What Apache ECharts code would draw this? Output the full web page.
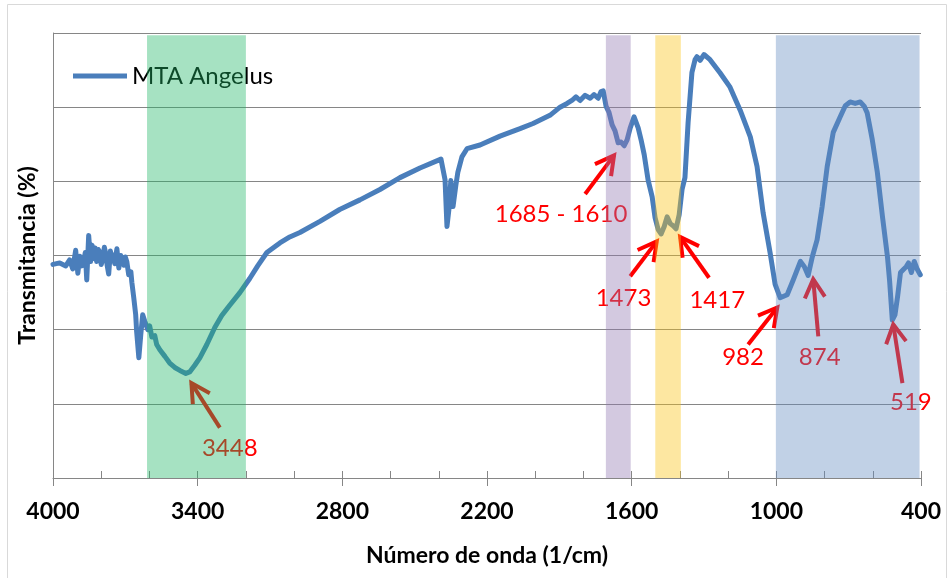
<!DOCTYPE html>
<html>
<head>
<meta charset="utf-8">
<title>MTA Angelus FTIR</title>
<script src="https://cdn.jsdelivr.net/npm/echarts@6/dist/echarts.min.js"></script>
<style>
  html, body { margin: 0; padding: 0; background: #fff; }
  #chart { width: 948px; height: 578px; }
</style>
</head>
<body>
<div id="chart"></div>
<script>
// spectrum (wavenumber in 1/cm, transmittance in %)
const wavenumbers = [4000, 3972, 3947, 3931, 3918, 3906, 3897, 3889, 3881, 3873, 3866, 3860, 3852, 3844, 3838, 3831, 3825, 3819, 3812, 3806, 3800, 3794, 3787, 3781, 3775, 3769, 3762, 3756, 3750, 3744, 3735, 3727, 3719, 3712, 3706, 3700, 3694, 3686, 3677, 3673, 3665, 3657, 3653, 3644, 3636, 3628, 3619, 3607, 3599, 3590, 3578, 3570, 3557, 3536, 3516, 3495, 3474, 3449, 3433, 3412, 3391, 3362, 3329, 3300, 3267, 3225, 3184, 3151, 3113, 3059, 3018, 2976, 2893, 2811, 2727, 2644, 2561, 2478, 2391, 2374, 2366, 2358, 2350, 2341, 2329, 2321, 2304, 2283, 2229, 2146, 2063, 2009, 1939, 1897, 1868, 1848, 1831, 1814, 1793, 1772, 1756, 1739, 1727, 1718, 1706, 1694, 1681, 1669, 1656, 1644, 1631, 1619, 1606, 1590, 1573, 1561, 1548, 1532, 1515, 1503, 1490, 1478, 1465, 1453, 1440, 1428, 1416, 1403, 1391, 1379, 1366, 1350, 1337, 1329, 1316, 1300, 1275, 1233, 1192, 1150, 1108, 1080, 1055, 1026, 1005, 984, 955, 930, 900, 884, 868, 851, 831, 810, 789, 764, 735, 714, 694, 673, 652, 635, 623, 602, 581, 560, 539, 530, 519, 508, 497, 485, 473, 461, 452, 440, 428, 415, 403]
const transmittance = [28.8, 29.0, 28.6, 29.4, 28.2, 30.7, 27.6, 29.9, 28.6, 29.2, 30.4, 26.7, 32.7, 29.2, 31.4, 29.6, 31.0, 29.2, 30.8, 30.5, 28.8, 29.4, 31.1, 30.2, 28.6, 27.5, 30.6, 29.7, 30.1, 28.9, 30.9, 28.3, 30.0, 29.1, 28.7, 29.8, 29.2, 27.4, 27.8, 26.4, 24.3, 22.0, 19.7, 16.2, 19.3, 22.0, 21.1, 20.0, 20.5, 19.0, 19.2, 18.0, 17.3, 16.4, 15.5, 14.9, 14.5, 14.1, 14.3, 15.2, 16.2, 18.0, 20.3, 21.9, 23.3, 25.0, 26.9, 28.6, 30.4, 31.7, 32.5, 33.1, 34.6, 36.2, 37.5, 38.9, 40.5, 41.8, 43.0, 40.2, 33.9, 36.2, 40.1, 36.6, 39.5, 41.2, 43.3, 44.4, 44.9, 46.1, 47.1, 47.8, 48.9, 50.0, 50.5, 50.9, 51.4, 50.9, 51.6, 51.2, 51.7, 51.2, 52.1, 52.2, 50.1, 49.3, 47.6, 46.8, 45.2, 45.3, 44.8, 45.6, 47.2, 48.7, 47.2, 45.6, 43.6, 40.2, 37.9, 35.1, 33.5, 32.9, 33.9, 35.2, 34.3, 34.0, 33.6, 35.5, 38.9, 40.5, 47.9, 54.7, 56.4, 56.8, 56.3, 57.1, 56.4, 54.6, 52.7, 49.6, 46.0, 42.0, 35.8, 30.4, 26.1, 24.3, 24.7, 26.7, 29.2, 28.5, 27.3, 29.8, 32.1, 36.6, 42.0, 46.6, 48.7, 50.2, 50.7, 50.5, 50.7, 50.1, 49.2, 45.6, 41.2, 35.3, 29.8, 26.5, 21.3, 22.0, 24.5, 27.7, 28.1, 28.5, 29.0, 27.7, 29.2, 28.1, 27.4]

// highlighted bands [from, to] in 1/cm, drawn over the curve with some transparency
const bandRanges = [[3610, 3200], [1707, 1604], [1502, 1396], [1002, 406]]
const bandColors = ['rgba(33,182,102,0.4)', 'rgba(145,120,177,0.4)', 'rgba(250,195,20,0.4)', 'rgba(100,140,193,0.4)']
const bandTop = 59.7

// peak annotations: arrow tip, arrow tail, text position
const peakLabels = ['3448', '1685 - 1610', '1473', '1417', '982', '874', '519']
const arrowTips = [[3426, 12.8], [1673, 43.5], [1496, 31.9], [1399, 32.5], [996, 23.0], [847, 26.8], [515, 20.7]]
const arrowTails = [[3308, 6.8], [1793, 38.3], [1606, 27.2], [1279, 27.0], [1117, 18.0], [826, 19.1], [477, 12.8]]
const labelAt = [[3267, 4.0], [1893, 35.6], [1634, 24.3], [1245, 24.0], [1138, 16.3], [820, 16.3], [442, 10.2]]

const xTicks = { min: 400, max: 4000, major: 600, minor: 200 }

const chart = echarts.init(document.getElementById('chart'))

const lineData = wavenumbers.map((w, i) => [w, transmittance[i]])
const arrowData = arrowTips.map((t, i) => [t[0], t[1], arrowTails[i][0], arrowTails[i][1]])
const bandData = bandRanges.map(r => [r[0], r[1], 0, bandTop])

function renderArrow(params, api) {
  const tip = api.coord([api.value(0), api.value(1)])
  const tail = api.coord([api.value(2), api.value(3)])
  const ang = Math.atan2(tail[1] - tip[1], tail[0] - tip[0])
  const len = 21
  const spread = 0.5
  const a = [tip[0] + len * Math.cos(ang + spread), tip[1] + len * Math.sin(ang + spread)]
  const b = [tip[0] + len * Math.cos(ang - spread), tip[1] + len * Math.sin(ang - spread)]
  return {
    type: 'group',
    children: [
      { type: 'line', shape: { x1: tail[0], y1: tail[1], x2: tip[0], y2: tip[1] }, style: { stroke: '#ff0000', lineWidth: 4 } },
      { type: 'polyline', shape: { points: [a, tip, b] }, style: { stroke: '#ff0000', lineWidth: 4, fill: null } }
    ]
  }
}

function renderLabel(params, api) {
  const p = api.coord([api.value(0), api.value(1)])
  return {
    type: 'text',
    x: p[0],
    y: p[1],
    style: {
      text: peakLabels[params.dataIndex],
      fill: '#ff0000',
      font: '24px Lato',
      align: 'center',
      verticalAlign: 'middle'
    }
  }
}

function renderBand(params, api) {
  const p0 = api.coord([api.value(0), api.value(3)])
  const p1 = api.coord([api.value(1), api.value(2)])
  return {
    type: 'rect',
    shape: { x: Math.min(p0[0], p1[0]), y: p0[1], width: Math.abs(p1[0] - p0[0]), height: p1[1] - p0[1] },
    style: { fill: bandColors[params.dataIndex] }
  }
}

chart.setOption({
  animation: false,
  textStyle: { fontFamily: 'Lato' },
  graphic: [{
    type: 'rect',
    shape: { x: 7.5, y: 4.5, width: 939, height: 620 },
    style: { fill: null, stroke: '#d9d9d9', lineWidth: 1 },
    silent: true
  }],
  grid: { left: 53, right: 27, top: 33, bottom: 100 },
  legend: {
    data: ['MTA Angelus'],
    left: 68,
    top: 59,
    icon: 'rect',
    itemWidth: 54,
    itemHeight: 5,
    itemGap: 6,
    itemStyle: { color: '#4a7ebb' },
    textStyle: { fontSize: 24, color: '#000', fontFamily: 'Lato', padding: [0, 0, 0, 0] }
  },
  xAxis: [{
    type: 'value',
    inverse: true,
    min: xTicks.min,
    max: xTicks.max,
    interval: xTicks.major,
    name: 'Número de onda (1/cm)',
    nameLocation: 'middle',
    nameGap: 66,
    nameTextStyle: { fontSize: 23, fontWeight: 'bold', color: '#000', fontFamily: 'Lato' },
    axisLine: { lineStyle: { color: '#868686', width: 1 } },
    axisTick: { length: 8, lineStyle: { color: '#868686' } },
    axisLabel: { margin: 22, fontSize: 23, fontWeight: 'bold', color: '#000', fontFamily: 'Lato', formatter: v => String(v) },
    splitLine: { show: false }
  }, {
    type: 'value',
    position: 'bottom',
    inverse: true,
    min: xTicks.min,
    max: xTicks.max,
    interval: xTicks.minor,
    axisLine: { show: false },
    axisTick: { inside: true, length: 7, lineStyle: { color: '#868686' } },
    axisLabel: { show: false },
    splitLine: { show: false }
  }],
  yAxis: {
    type: 'value',
    min: 0,
    max: 60,
    interval: 10,
    name: 'Transmitancia (%)',
    nameLocation: 'middle',
    nameGap: 14,
    nameTextStyle: { fontSize: 23, fontWeight: 'bold', color: '#000', fontFamily: 'Lato' },
    axisLine: { show: true, lineStyle: { color: '#868686', width: 1 } },
    axisTick: { show: false },
    axisLabel: { show: false },
    splitLine: { lineStyle: { color: '#868686', width: 1 } }
  },
  series: [{
    name: 'MTA Angelus',
    type: 'line',
    data: lineData,
    symbol: 'none',
    z: 2,
    lineStyle: { color: '#4a7ebb', width: 5, join: 'round', cap: 'round' },
    itemStyle: { color: '#4a7ebb' }
  }, {
    type: 'custom',
    name: 'arrows',
    data: arrowData,
    encode: { x: [0, 2], y: [1, 3] },
    renderItem: renderArrow,
    silent: true,
    z: 3
  }, {
    type: 'custom',
    name: 'labels',
    data: labelAt,
    encode: { x: 0, y: 1 },
    renderItem: renderLabel,
    silent: true,
    z: 3
  }, {
    type: 'custom',
    name: 'bands',
    data: bandData,
    encode: { x: [0, 1], y: [2, 3] },
    renderItem: renderBand,
    silent: true,
    z: 6
  }]
})
</script>
</body>
</html>
